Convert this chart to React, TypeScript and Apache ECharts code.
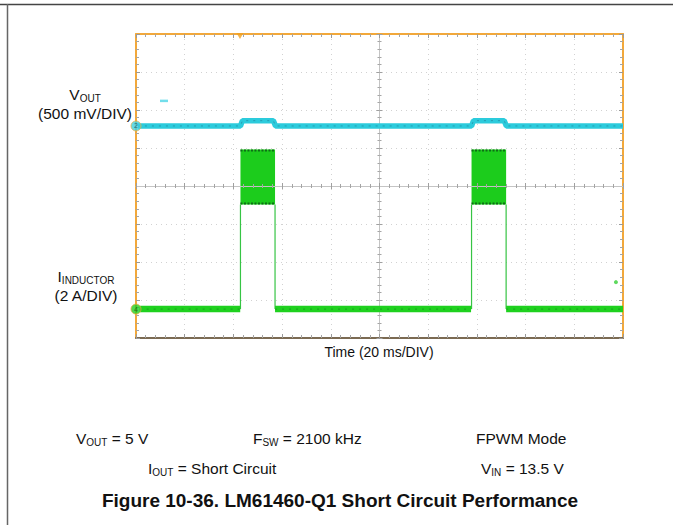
import React, { useEffect, useRef } from "react";
import * as echarts from "echarts";

// ---- scope settings ----
const TIME_MIN = 0; // ms
const TIME_MAX = 200; // ms (10 div x 20 ms)
const TIME_PER_DIV = 20;
const DIV_MIN = -4;
const DIV_MAX = 4;
const V_PER_DIV = 0.5; // V/div
const A_PER_DIV = 2; // A/div
const VOUT_GROUND_DIV = 1.58; // channel 2 offset (div from centre)
const IIND_GROUND_DIV = -3.24; // channel 4 offset (div from centre)

// ---- data (time ms, value) ----
const voutTrace: [number, number][] = [
  [0.8, 0], [42.9, 0], [43.7, 0.07], [56.4, 0.07], [57.3, 0],
  [137.8, 0], [138.6, 0.07], [151.2, 0.07], [152.1, 0], [200, 0],
];
// inductor current baseline (A); gaps during hiccup bursts
const inductorBaseline: any[] = [
  [1.5, 0], [42.8, 0], [50, "-"], [57.1, 0], [137.6, 0], [145, "-"], [152.0, 0], [200, 0],
];
// hiccup bursts: [start ms, end ms, valley A, peak A]
const inductorBursts: [number, number, number, number][] = [
  [42.9, 57.1, 5.5, 8.4],
  [137.8, 152.0, 5.5, 8.4],
];
const triggerTimeMs = 42.7;
const voutSpeck: [number, number][] = [[11.5, 0.33]];
const inductorSpeck: [number, number][] = [[197.1, 1.42]];

const ORANGE = "#f2a83a";
const CYAN = "#2ccbdc";
const GREEN = "#1fd11f";
const FONT = "'Liberation Sans', Arial, sans-serif";

function mkRich(size: number, sub: number) {
  return {
    n: { fontSize: size, fontFamily: FONT, color: "#111", lineHeight: size + 3 },
    s: { fontSize: sub, fontFamily: FONT, color: "#111", lineHeight: sub, verticalAlign: "bottom" },
  };
}

function txt(x: number, y: number, text: string, align = "left", size = 14, sub = 9.5) {
  return {
    type: "text",
    x,
    y,
    style: { text, rich: mkRich(size, sub), align, verticalAlign: "middle", fontFamily: FONT, fontSize: size, fill: "#111" },
  };
}

export default function App() {
  const ref = useRef<HTMLDivElement>(null);
  useEffect(() => {
    const chart = echarts.init(ref.current!, undefined, { renderer: "svg" });
    const vMin = (DIV_MIN - VOUT_GROUND_DIV) * V_PER_DIV;
    const vMax = (DIV_MAX - VOUT_GROUND_DIV) * V_PER_DIV;
    const iMin = (DIV_MIN - IIND_GROUND_DIV) * A_PER_DIV;
    const iMax = (DIV_MAX - IIND_GROUND_DIV) * A_PER_DIV;

    const hiddenLabel = { show: false };
    const timeBase = { type: "value", min: TIME_MIN, max: TIME_MAX, interval: TIME_PER_DIV, axisLabel: hiddenLabel };
    const divBase = { type: "value", min: DIV_MIN, max: DIV_MAX, interval: 1, axisLabel: hiddenLabel };
    const minor = { show: true, splitNumber: 5, length: 3, lineStyle: { color: "#a5a5a5", width: 1 } };

    chart.setOption({
      animation: false,
      backgroundColor: "#ffffff",
      grid: { left: 136, top: 34, width: 487, height: 304, containLabel: false },
      xAxis: [
        {
          ...timeBase, position: "bottom",
          axisLine: { onZero: false, lineStyle: { color: "#7b6a52", width: 2 } },
          axisTick: { inside: true, length: 4, lineStyle: { color: "#9a9a9a" } },
          minorTick: minor,
          splitLine: { show: true, lineStyle: { color: "#d2d2d2", type: [1, 4], width: 1 } },
        },
        {
          ...timeBase, position: "top",
          axisLine: { onZero: false, lineStyle: { color: ORANGE, width: 2 } },
          axisTick: { inside: true, length: 4, lineStyle: { color: "#9a9a9a" } },
          minorTick: minor,
          splitLine: { show: false },
        },
        {
          ...timeBase, position: "bottom", z: 5,
          axisLine: { onZero: true, onZeroAxisIndex: 0, lineStyle: { color: "#c4c4c4", width: 1 } },
          axisTick: { inside: true, length: 3, lineStyle: { color: "#a0a0a0" } },
          minorTick: { ...minor, length: 2 },
          splitLine: { show: false },
        },
        {
          ...timeBase, position: "bottom", z: 5,
          axisLine: { show: false, onZero: true, onZeroAxisIndex: 0 },
          axisTick: { inside: false, length: 3, lineStyle: { color: "#a0a0a0" } },
          minorTick: { ...minor, length: 2 },
          splitLine: { show: false },
        },
      ],
      yAxis: [
        {
          ...divBase, position: "left",
          axisLine: { onZero: false, lineStyle: { color: ORANGE, width: 2 } },
          axisTick: { inside: true, length: 4, lineStyle: { color: "#9a9a9a" } },
          minorTick: minor,
          splitLine: { show: true, lineStyle: { color: "#d2d2d2", type: [1, 4], width: 1 } },
        },
        {
          ...divBase, position: "right",
          axisLine: { onZero: false, lineStyle: { color: ORANGE, width: 2 } },
          axisTick: { inside: true, length: 4, lineStyle: { color: "#9a9a9a" } },
          minorTick: minor,
          splitLine: { show: false },
        },
        {
          ...divBase, position: "left", offset: -243.5,
          axisLine: { onZero: false, lineStyle: { color: "#c4c4c4", width: 1 } },
          axisTick: { inside: true, length: 3, lineStyle: { color: "#a0a0a0" } },
          minorTick: { ...minor, length: 2 },
          splitLine: { show: false },
        },
        {
          ...divBase, position: "left", offset: -243.5,
          axisLine: { show: false, onZero: false },
          axisTick: { inside: false, length: 3, lineStyle: { color: "#a0a0a0" } },
          minorTick: { ...minor, length: 2 },
          splitLine: { show: false },
        },
        { type: "value", min: vMin, max: vMax, show: false },
        { type: "value", min: iMin, max: iMax, show: false },
      ],
      series: [
        {
          name: "VOUT", type: "line", xAxisIndex: 0, yAxisIndex: 4, data: voutTrace,
          showSymbol: false, lineStyle: { color: CYAN, width: 5.5 }, z: 3,
        },
        {
          name: "VOUT noise", type: "line", xAxisIndex: 0, yAxisIndex: 4, data: voutTrace,
          showSymbol: false, lineStyle: { color: "#1d6f8a", width: 1, type: [2, 5], opacity: 0.5 }, z: 4,
        },
        {
          name: "IINDUCTOR", type: "line", xAxisIndex: 0, yAxisIndex: 5, data: inductorBaseline,
          connectNulls: false, showSymbol: false, lineStyle: { color: GREEN, width: 6.5 }, z: 3,
        },
        {
          name: "IINDUCTOR noise", type: "line", xAxisIndex: 0, yAxisIndex: 5, data: inductorBaseline,
          connectNulls: false, showSymbol: false, lineStyle: { color: "#0f7f1a", width: 1, type: [2, 5], opacity: 0.55 }, z: 4,
        },
        {
          name: "IINDUCTOR bursts", type: "custom", xAxisIndex: 0, yAxisIndex: 5, data: inductorBursts,
          encode: { x: [0, 1], y: [2, 3] }, z: 3,
          renderItem: (params: any, api: any) => {
            const tl = api.coord([api.value(0), api.value(3)]);
            const br = api.coord([api.value(1), api.value(2)]);
            const g0 = api.coord([api.value(0), 0]);
            const g1 = api.coord([api.value(1), 0]);
            return {
              type: "group",
              children: [
                { type: "line", shape: { x1: tl[0], y1: br[1], x2: g0[0], y2: g0[1] }, style: { stroke: "#36c444", lineWidth: 1.2 } },
                { type: "line", shape: { x1: br[0], y1: br[1], x2: g1[0], y2: g1[1] }, style: { stroke: "#36c444", lineWidth: 1.2 } },
                { type: "rect", shape: { x: tl[0], y: tl[1], width: br[0] - tl[0], height: br[1] - tl[1] }, style: { fill: "#1ccc1c" } },
                { type: "line", shape: { x1: tl[0], y1: tl[1] + 1, x2: br[0], y2: tl[1] + 1 }, style: { stroke: "#0d6e16", lineWidth: 2, lineDash: [2, 1.5] } },
                { type: "line", shape: { x1: tl[0], y1: br[1] - 1, x2: br[0], y2: br[1] - 1 }, style: { stroke: "#0d6e16", lineWidth: 2, lineDash: [2, 1.5] } },
              ],
            };
          },
        },
        {
          name: "ch2 marker", type: "scatter", xAxisIndex: 0, yAxisIndex: 4, data: [[TIME_MIN, 0]],
          symbol: "circle", symbolSize: 10, z: 6,
          itemStyle: { color: "#3fd0e0", borderColor: "#e9b04a", borderWidth: 1 },
          label: { show: true, position: "inside", formatter: "2", fontSize: 7, color: "#14506a", fontFamily: FONT },
        },
        {
          name: "ch4 marker", type: "scatter", xAxisIndex: 0, yAxisIndex: 5, data: [[TIME_MIN, 0]],
          symbol: "circle", symbolSize: 10, z: 6,
          itemStyle: { color: "#22d022", borderColor: "#e9b04a", borderWidth: 1 },
          label: { show: true, position: "inside", formatter: "4", fontSize: 7, color: "#0c5a12", fontFamily: FONT },
        },
        {
          name: "trigger", type: "scatter", xAxisIndex: 0, yAxisIndex: 0, data: [[triggerTimeMs, DIV_MAX]],
          symbol: "triangle", symbolRotate: 180, symbolSize: [7, 6], symbolOffset: [0, 2], z: 6,
          itemStyle: { color: "#f0a020" },
        },
        {
          name: "vout speck", type: "scatter", xAxisIndex: 0, yAxisIndex: 4, data: voutSpeck,
          symbol: "rect", symbolSize: [8, 2.5], itemStyle: { color: "#4fd6e6" },
        },
        {
          name: "iind speck", type: "scatter", xAxisIndex: 0, yAxisIndex: 5, data: inductorSpeck,
          symbol: "circle", symbolSize: 4, itemStyle: { color: "#35cf35" },
        },
      ],
      graphic: [
        { type: "line", shape: { x1: 0, y1: 4.5, x2: 673, y2: 4.5 }, style: { stroke: "#444", lineWidth: 1.5 } },
        { type: "line", shape: { x1: 7.5, y1: 4, x2: 7.5, y2: 525 }, style: { stroke: "#666", lineWidth: 1.5 } },
        txt(85, 94, "{n|V}{s|OUT}", "center", 15.5, 10),
        txt(85, 113, "{n|(500 mV/DIV)}", "center", 15.5, 10),
        txt(86, 276, "{n|I}{s|INDUCTOR}", "center", 15.5, 10),
        txt(86, 295, "{n|(2 A/DIV)}", "center", 15.5, 10),
        txt(379, 352, "{n|Time (20 ms/DIV)}", "center", 14, 9.5),
        txt(76, 438, "{n|V}{s|OUT}{n| = 5 V}", "left", 15.5, 10),
        txt(253, 438, "{n|F}{s|SW}{n| = 2100 kHz}", "left", 15.5, 10),
        txt(476, 438, "{n|FPWM Mode}", "left", 15.5, 10),
        txt(148, 468, "{n|I}{s|OUT}{n| = Short Circuit}", "left", 15.5, 10),
        txt(481, 468, "{n|V}{s|IN}{n| = 13.5 V}", "left", 15.5, 10),
        {
          type: "text", x: 340, y: 500,
          style: {
            text: "Figure 10-36. LM61460-Q1 Short Circuit Performance",
            align: "center", verticalAlign: "middle",
            fontFamily: FONT, fontSize: 19, fontWeight: "bold", fill: "#111",
          },
        },
      ],
    });
    return () => chart.dispose();
  }, []);
  return <div ref={ref} style={{ position: "fixed", left: 0, top: 0, width: 673, height: 525 }} />;
}
